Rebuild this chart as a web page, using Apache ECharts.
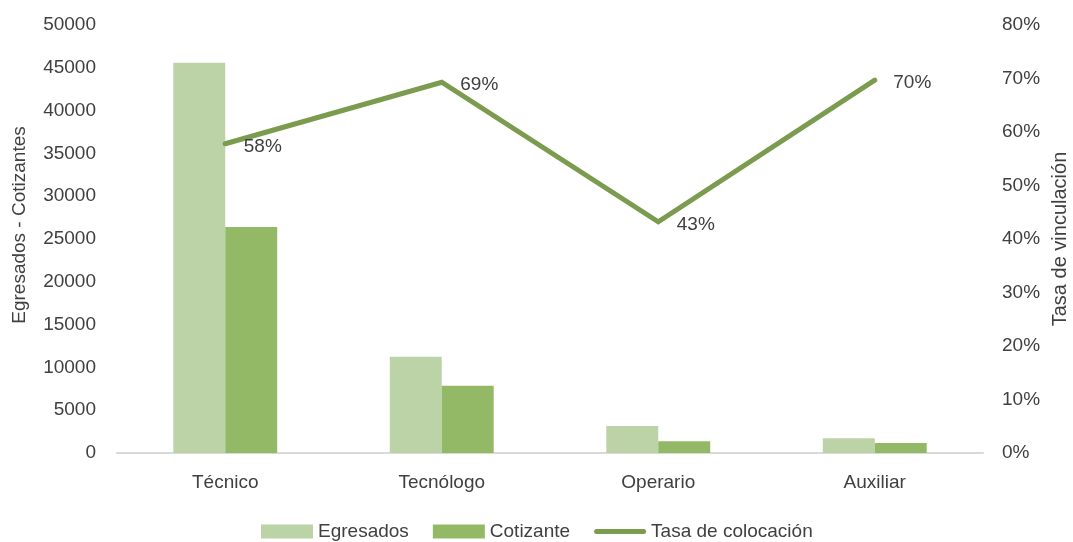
<!DOCTYPE html>
<html><head><meta charset="utf-8">
<script src="https://cdn.jsdelivr.net/npm/echarts@6/dist/echarts.min.js"></script>
<style>html,body{margin:0;padding:0;background:#fff}#c{width:1073px;height:542px}</style>
</head><body><div id="c"></div>
<script>
const categories = ['Técnico', 'Tecnólogo', 'Operario', 'Auxiliar'];
const egresados = [45600, 11250, 3150, 1720];
const cotizante = [26400, 7850, 1380, 1180];
const tasa = [0.578, 0.693, 0.432, 0.697];
const rightTicks = ['0%','10%','20%','30%','40%','50%','60%','70%','80%'];

const FONT = '"Liberation Sans", Arial, sans-serif';
const TXT = '#404040';
const chart = echarts.init(document.getElementById('c'), null, {renderer: 'canvas'});
chart.setOption({
  animation: false,
  textStyle: {fontFamily: FONT},
  grid: {left: 117, right: 90, top: 25, bottom: 89, outerBoundsMode: 'none', containLabel: false},
  legend: {
    top: 517, left: 256,
    itemWidth: 52, itemHeight: 14, itemGap: 24,
    textStyle: {fontFamily: FONT, fontSize: 19, color: TXT},
    data: [
      {name: 'Egresados', icon: 'rect'},
      {name: 'Cotizante', icon: 'rect'},
      {name: 'Tasa de colocación', icon: 'path://M2.5,0H49.5A2.5,2.5,0,0,1,49.5,5H2.5A2.5,2.5,0,0,1,2.5,0Z'}
    ]
  },
  xAxis: {
    type: 'category', data: categories,
    axisLine: {lineStyle: {color: '#d9d9d9', width: 2}},
    axisTick: {show: false},
    axisLabel: {fontFamily: FONT, fontSize: 19, color: TXT, margin: 20}
  },
  yAxis: [{
    type: 'value', min: 0, max: 50000, interval: 5000,
    name: 'Egresados - Cotizantes', nameLocation: 'middle', nameGap: 88,
    nameTextStyle: {fontFamily: FONT, fontSize: 19, color: TXT, padding: [0, 0, 0, 28]},
    splitLine: {show: false},
    axisLine: {show: false}, axisTick: {show: false},
    axisLabel: {fontFamily: FONT, fontSize: 19, color: TXT, margin: 21,
      formatter: v => String(v)}
  }, {
    type: 'value', min: 0, max: 0.8, interval: 0.1,
    name: 'Tasa de vinculación', nameLocation: 'middle', nameGap: 64, nameRotate: 90,
    nameTextStyle: {fontFamily: FONT, fontSize: 20, color: TXT},
    splitLine: {show: false},
    axisLine: {show: false}, axisTick: {show: false},
    axisLabel: {fontFamily: FONT, fontSize: 19, color: TXT, margin: 19,
      formatter: v => rightTicks[Math.round(v * 10)]}
  }],
  series: [{
    name: 'Egresados', type: 'bar', data: egresados, barWidth: '24%', barGap: '0%',
    itemStyle: {color: '#bcd2a7'}
  }, {
    name: 'Cotizante', type: 'bar', data: cotizante, barWidth: '24%',
    itemStyle: {color: '#94b966'}
  }, {
    name: 'Tasa de colocación', type: 'line', yAxisIndex: 1, data: tasa,
    symbol: 'circle', symbolSize: 1, showSymbol: true,
    lineStyle: {color: '#7b9c4f', width: 5, cap: 'round', join: 'miter'},
    itemStyle: {color: '#7b9c4f'},
    label: {show: true, position: 'right', distance: 18, offset: [0, 3],
      fontFamily: FONT, fontSize: 19, color: TXT,
      formatter: p => Math.round(p.value * 100) + '%'}
  }]
});
</script></body></html>
